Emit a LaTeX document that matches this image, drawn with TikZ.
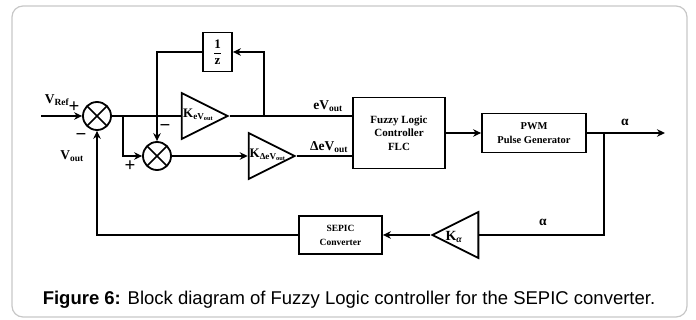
\documentclass[tikz,border=0pt]{standalone}
\usepackage{fontspec}
\setmainfont{Liberation Serif}
\newfontfamily\capfont{Liberation Sans}
\usetikzlibrary{shapes.geometric, arrows.meta}

\tikzset{
  blk/.style={draw, line width=1.8pt, align=center, inner sep=0pt,
    font=\bfseries\fontsize{11}{13.5}\selectfont},
  sumnode/.style={circle, draw, line width=1.8pt, minimum size=28pt, inner sep=0pt,
    path picture={\draw[line width=1.6pt]
      (path picture bounding box.north west) -- (path picture bounding box.south east)
      (path picture bounding box.north east) -- (path picture bounding box.south west);}},
  gain/.style={isosceles triangle, isosceles triangle stretches, draw, line width=1.8pt,
    minimum width=46pt, minimum height=46pt, inner sep=0pt},
  klbl/.style={font=\bfseries\fontsize{13}{14}\selectfont, inner sep=0pt},
  lbl/.style={font=\bfseries\fontsize{13.5}{15}\selectfont, inner sep=0pt},
  sgn/.style={font=\bfseries\fontsize{19}{19}\selectfont, inner sep=0pt},
}

\begin{document}
\begin{tikzpicture}[x=1pt, y=-1pt, >={Stealth[length=8pt, width=7.5pt]}, line width=1.8pt]
  \useasboundingbox (0,0) rectangle (696,320);
  \draw [line width=1.2pt, black!22, rounded corners=11pt] (12,6) rectangle (687,317);

  % summing points and gains
  \node [sumnode] (s1) at (97,116) {};
  \node [sumnode] (s2) at (157,156) {};
  \node [gain, anchor=apex] (ke)  at (230,116) {};
  \node [gain, anchor=apex] (kde) at (297,156) {};
  \node [gain, shape border rotate=180, anchor=apex] (ka) at (430,235) {};
  \node [klbl, anchor=west] (kel)  at ([xshift=1.5pt, yshift=1pt]ke.lower side)  {K\textsubscript{eV\textsubscript{out}}};
  \node [klbl, anchor=west] (kdel) at ([xshift=1pt, yshift=1pt]kde.lower side) {K\textsubscript{ΔeV\textsubscript{out}}};
  \node [klbl, font=\bfseries\fontsize{14}{14}\selectfont] (kal) at (454,237) {K\textsubscript{\itshape α}};

  % blocks
  \node [blk, minimum width=29pt, minimum height=39pt, font=\bfseries\fontsize{13}{14}\selectfont]
    (dz) at (217.5,52) {$\displaystyle\mathbf{\frac{1}{z}}$};
  \node [blk, minimum width=92pt, minimum height=71pt] (flc) at (399,133) {Fuzzy Logic\\Controller\\FLC};
  \node [blk, minimum width=104pt, minimum height=39pt, font=\bfseries\fontsize{10.5}{14}\selectfont]
    (pwm) at (534,133) {PWM\\Pulse Generator};
  \node [blk, minimum width=83pt, minimum height=38pt, font=\bfseries\fontsize{9.5}{14}\selectfont]
    (sepic) at (340.5,235) {SEPIC\\Converter};

  \coordinate (in)  at (41,116);
  \coordinate (b1)  at (123,116);
  \coordinate (b2)  at (264,116);
  \coordinate (b3)  at (604,133);
  \coordinate (out) at (665,133);

  % connectors
  \draw [->] (in) -- (s1);
  \draw (s1.east) -- (ke.lower side);
  \draw [->] (b1) |- (s2.west);
  \draw (ke.apex) -- (ke.apex -| flc.west);
  \draw [->] (b2) |- (dz.east);
  \draw [->] (dz.west) -| (s2.north);
  \draw [->] (s2.east) -- (kde.lower side);
  \draw (kde.apex) -- (kde.apex -| flc.west);
  \draw [->] (flc.east |- pwm.west) -- (pwm.west);
  \draw [->] (pwm.east) -- (out);
  \draw (b3) |- (ka.lower side);
  \draw [->] (ka.apex) -- (sepic.east);
  \draw [->] (sepic.west) -| (s1.south);

  % signal labels and signs
  \node [lbl] (vref) at (57,100) {V\textsubscript{Ref}};
  \node [lbl] (vout) at (72,156) {V\textsubscript{out}};
  \node [lbl] (ev)   at (328,106) {eV\textsubscript{out}};
  \node [lbl] (dev)  at (329,147) {ΔeV\textsubscript{out}};
  \node [lbl] (a1)   at (625,122) {α};
  \node [lbl] (a2)   at (543,222) {α};
  \node [sgn] (p1) at (74,107) {+};
  \node [sgn] (m1) at (81,137) {−};
  \node [sgn] (m2) at (165,128) {−};
  \node [sgn] (p2) at (130,166) {+};

  \node [font=\capfont\fontsize{18.5}{20}\selectfont, anchor=base] (cap) at (349,305)
    {\textbf{Figure 6:} Block diagram of Fuzzy Logic controller for the SEPIC converter.};
\end{tikzpicture}
\end{document}
